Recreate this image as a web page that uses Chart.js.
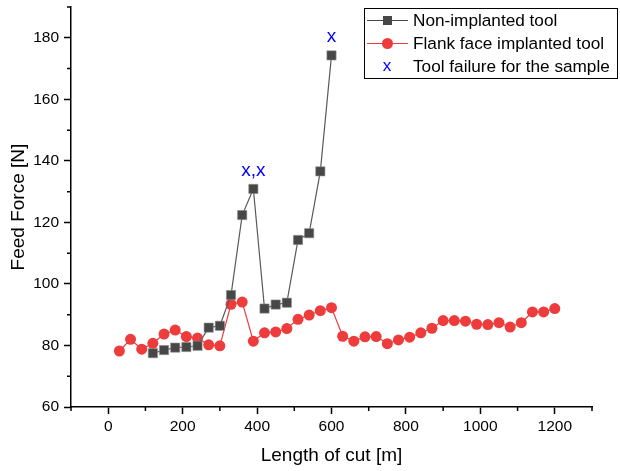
<!DOCTYPE html>
<html>
<head>
<meta charset="utf-8">
<script src="https://cdn.jsdelivr.net/npm/chart.js@4.4.1/dist/chart.umd.min.js"></script>
<style>
  html, body { margin: 0; padding: 0; background: #fff; }
  #chartBox { width: 620px; height: 471px; }
</style>
</head>
<body>
<div id="chartBox"><canvas id="feedForceChart"></canvas></div>
<script>
// length of cut [m] for each sample
const nonImplantedLength = [120, 150, 180, 210, 240, 270, 300, 330, 360, 390, 420, 450, 480, 510, 540, 570, 600];
const nonImplantedForce = [77.5, 78.5, 79.3, 79.5, 79.9, 85.8, 86.4, 96.4, 122.4, 130.9, 92.0, 93.3, 93.9, 114.3, 116.5, 136.6, 174.3];

const flankLength = [30, 60, 90, 120, 150, 180, 210, 240, 270, 300, 330, 360, 390, 420, 450, 480, 510, 540, 570, 600,
  630, 660, 690, 720, 750, 780, 810, 840, 870, 900, 930, 960, 990, 1020, 1050, 1080, 1110, 1140, 1170, 1200];
const flankForce = [78.2, 82.0, 78.8, 80.7, 83.7, 85.0, 82.9, 82.4, 80.2, 79.9, 93.4, 94.1, 81.4, 84.1, 84.4, 85.5, 88.5, 89.9, 91.3, 92.3,
  83.0, 81.4, 82.8, 82.9, 80.6, 81.8, 82.7, 84.1, 85.6, 88.1, 88.1, 87.9, 86.9, 86.8, 87.4, 86.0, 87.4, 90.9, 90.9, 92.0];

// tool failure markers
const failureLength = [390, 600];
const failureForce = [136.7, 180.2];
const failureText = ["x,x", "x"];

const xTicks = [0, 200, 400, 600, 800, 1000, 1200];
const xMinorTicks = [-100, 100, 300, 500, 700, 900, 1100, 1300];
const yTicks = [60, 80, 100, 120, 140, 160, 180];
const yMinorTicks = [70, 90, 110, 130, 150, 170, 190];

const FONT = "'Liberation Sans', Arial, sans-serif";
const GREY = "#474747";
const RED = "#ee3b3b";
const BLUE = "#0000ff";

const toPoints = (xs, ys) => xs.map((x, i) => ({ x: x, y: ys[i] }));

// minor ticks, failure labels and the boxed legend
const extrasPlugin = {
  id: "extras",
  afterDraw(chart) {
    const ctx = chart.ctx;
    const xs = chart.scales.x;
    const ys = chart.scales.y;
    const area = chart.chartArea;
    ctx.save();
    ctx.strokeStyle = "#000";
    ctx.lineWidth = 1.5;
    ctx.beginPath();
    xMinorTicks.forEach(v => {
      const px = xs.getPixelForValue(v);
      ctx.moveTo(px, area.bottom);
      ctx.lineTo(px, area.bottom + 4);
    });
    yMinorTicks.forEach(v => {
      const py = ys.getPixelForValue(v);
      ctx.moveTo(area.left, py);
      ctx.lineTo(area.left - 4, py);
    });
    ctx.stroke();

    // failure text
    ctx.fillStyle = BLUE;
    ctx.font = "19px " + FONT;
    ctx.textAlign = "center";
    ctx.textBaseline = "middle";
    failureLength.forEach((v, i) => {
      ctx.fillText(failureText[i], xs.getPixelForValue(v), ys.getPixelForValue(failureForce[i]));
    });

    // legend
    const lx = 364.5, ly = 8.5, lw = 253, lh = 70;
    ctx.fillStyle = "#fff";
    ctx.fillRect(lx, ly, lw, lh);
    ctx.strokeStyle = "#000";
    ctx.lineWidth = 1;
    ctx.strokeRect(lx, ly, lw, lh);

    const rows = [20.5, 43.5, 66];
    ctx.font = "17.2px " + FONT;
    ctx.textAlign = "left";

    // row 1
    ctx.strokeStyle = GREY;
    ctx.beginPath();
    ctx.moveTo(367, rows[0]); ctx.lineTo(408, rows[0]);
    ctx.stroke();
    ctx.fillStyle = GREY;
    ctx.fillRect(383, rows[0] - 4.5, 9, 9);
    ctx.fillStyle = "#000";
    ctx.fillText("Non-implanted tool", 413, rows[0] + 1);

    // row 2
    ctx.strokeStyle = RED;
    ctx.beginPath();
    ctx.moveTo(367, rows[1]); ctx.lineTo(408, rows[1]);
    ctx.stroke();
    ctx.fillStyle = RED;
    ctx.beginPath();
    ctx.arc(387.5, rows[1], 5.5, 0, Math.PI * 2);
    ctx.fill();
    ctx.fillStyle = "#000";
    ctx.fillText("Flank face implanted tool", 413, rows[1] + 1);

    // row 3
    ctx.fillStyle = BLUE;
    ctx.textAlign = "center";
    ctx.fillText("x", 387, rows[2]);
    ctx.fillStyle = "#000";
    ctx.textAlign = "left";
    ctx.fillText("Tool failure for the sample", 413, rows[2] + 1);
    ctx.restore();
  }
};

const ctx = document.getElementById("feedForceChart").getContext("2d");

new Chart(ctx, {
  type: "scatter",
  data: {
    datasets: [
      {
        label: "Non-implanted tool",
        data: toPoints(nonImplantedLength, nonImplantedForce),
        showLine: true,
        borderColor: "#5a5a5a",
        borderWidth: 1.2,
        backgroundColor: GREY,
        pointStyle: "rect",
        pointRadius: 6.5,
        pointBorderColor: "#8a8a8a",
        pointBorderWidth: 0.6,
        pointHoverRadius: 6.5,
        tension: 0
      },
      {
        label: "Flank face implanted tool",
        data: toPoints(flankLength, flankForce),
        showLine: true,
        borderColor: RED,
        borderWidth: 1.2,
        backgroundColor: RED,
        pointStyle: "circle",
        pointRadius: 5.5,
        pointBorderWidth: 0,
        pointHoverRadius: 5.5,
        tension: 0
      }
    ]
  },
  options: {
    responsive: true,
    maintainAspectRatio: false,
    animation: false,
    layout: { padding: { top: 7, right: 28, left: 0, bottom: 0 } },
    plugins: {
      legend: { display: false },
      tooltip: { enabled: false }
    },
    scales: {
      x: {
        type: "linear",
        min: -100,
        max: 1300,
        afterBuildTicks: scale => { scale.ticks = xTicks.map(v => ({ value: v })); },
        afterFit: scale => { scale.height = 64; },
        border: { color: "#000", width: 1.5 },
        grid: { drawOnChartArea: false, tickLength: 7, tickColor: "#000", tickWidth: 1.5 },
        ticks: { color: "#000", font: { family: FONT, size: 15.5 }, padding: 3, maxRotation: 0, callback: v => String(v) },
        title: { display: true, text: "Length of cut [m]", color: "#000", font: { family: FONT, size: 19 }, padding: { top: 3 } }
      },
      y: {
        min: 60,
        max: 190,
        afterBuildTicks: scale => { scale.ticks = yTicks.map(v => ({ value: v })); },
        afterFit: scale => { scale.width = 71; scale.paddingTop = 0; scale.paddingBottom = 0; },
        border: { color: "#000", width: 1.5 },
        grid: { drawOnChartArea: false, tickLength: 7, tickColor: "#000", tickWidth: 1.5 },
        ticks: { color: "#000", font: { family: FONT, size: 15.5 }, padding: 5, callback: v => String(v) },
        title: { display: true, text: "Feed Force [N]", color: "#000", font: { family: FONT, size: 19 }, padding: { bottom: 0, top: 7 } }
      }
    }
  },
  plugins: [extrasPlugin]
});
</script>
</body>
</html>
